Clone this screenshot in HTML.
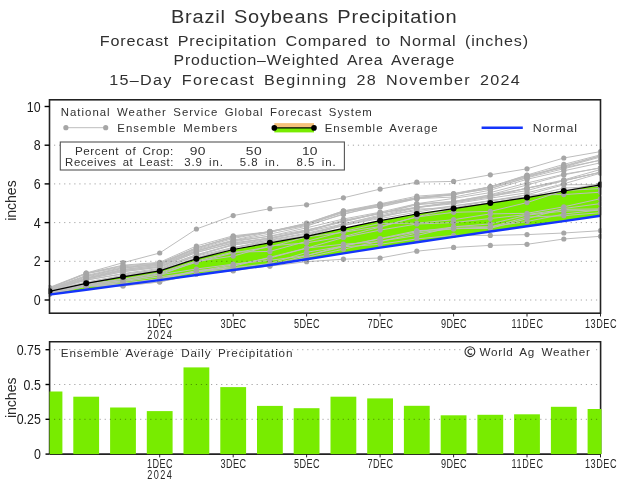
<!DOCTYPE html><html><head><meta charset="utf-8"><style>html,body{margin:0;padding:0;background:#fff;width:623px;height:484px;overflow:hidden}svg{display:block;will-change:transform}</style></head><body>
<svg width="623" height="484" viewBox="0 0 623 484" style="font-family:'Liberation Sans',sans-serif">
<text transform="translate(171.00,22.80) scale(1.060,1)" font-size="18.90" fill="#303030" word-spacing="1.89" textLength="269.5" lengthAdjust="spacing">Brazil Soybeans Precipitation</text>
<text transform="translate(99.87,45.50) scale(1.060,1)" font-size="15.26" fill="#303030" word-spacing="3.05" textLength="404.0" lengthAdjust="spacing">Forecast Precipitation Compared to Normal (inches)</text>
<text transform="translate(173.59,64.90) scale(1.060,1)" font-size="14.97" fill="#303030" word-spacing="2.99" textLength="264.8" lengthAdjust="spacing">Production–Weighted Area Average</text>
<text transform="translate(109.27,85.20) scale(1.060,1)" font-size="15.26" fill="#303030" word-spacing="3.05" textLength="387.3" lengthAdjust="spacing">15–Day Forecast Beginning 28 November 2024</text>
<polygon points="49.5,291.3 86.2,283.3 123.0,276.8 159.7,270.9 196.4,258.8 233.2,249.5 269.9,242.8 306.6,236.4 343.4,228.4 380.1,220.7 416.8,214.0 453.6,208.6 490.3,203.1 527.0,197.6 563.8,191.0 600.5,184.8 600.5,215.8 563.8,221.1 527.0,226.3 490.3,231.5 453.6,236.9 416.8,242.2 380.1,247.6 343.4,253.4 306.6,259.2 269.9,265.0 233.2,270.0 196.4,275.0 159.7,280.1 123.0,284.9 86.2,289.7 49.5,294.6" fill="#78ec00"/>
<g fill="none" stroke="#bdbdbd" stroke-width="1">
<polyline points="49.5,287.4 86.2,273.1 123.0,262.7 159.7,253.0 196.4,229.0 233.2,215.6 269.9,208.7 306.6,204.8 343.4,197.8 380.1,189.1 416.8,182.2 453.6,181.4 490.3,174.8 527.0,168.8 563.8,158.0 600.5,151.6"/>
<polyline points="49.5,293.8 86.2,286.5 123.0,281.6 159.7,276.8 196.4,271.9 233.2,268.7 269.9,266.1 306.6,261.7 343.4,259.2 380.1,258.0 416.8,251.2 453.6,247.4 490.3,245.4 527.0,244.3 563.8,239.0 600.5,236.3"/>
<polyline points="49.5,293.2 86.2,285.5 123.0,280.6 159.7,274.8 196.4,269.0 233.2,264.2 269.9,260.3 306.6,255.5 343.4,246.8 380.1,244.3 416.8,238.9 453.6,235.4 490.3,235.4 527.0,234.6 563.8,233.0 600.5,230.7"/>
<polyline points="49.5,294.1 86.2,285.9 123.0,285.7 159.7,281.8 196.4,274.0 233.2,270.7 269.9,264.9 306.6,255.5 343.4,245.9 380.1,238.9 416.8,231.8 453.6,227.0 490.3,226.8 527.0,221.5 563.8,214.1 600.5,209.8"/>
<polyline points="49.5,294.2 86.2,286.1 123.0,285.9 159.7,282.0 196.4,274.0 233.2,270.7 269.9,265.9 306.6,257.4 343.4,249.2 380.1,241.2 416.8,235.5 453.6,226.8 490.3,223.9 527.0,215.1 563.8,211.1 600.5,209.9"/>
<polyline points="49.5,293.6 86.2,285.5 123.0,284.9 159.7,278.9 196.4,270.5 233.2,267.7 269.9,263.5 306.6,252.3 343.4,246.1 380.1,238.5 416.8,230.7 453.6,228.9 490.3,227.0 527.0,217.1 563.8,215.7 600.5,212.7"/>
<polyline points="49.5,293.3 86.2,285.4 123.0,284.4 159.7,278.6 196.4,271.4 233.2,264.9 269.9,258.0 306.6,248.2 343.4,237.5 380.1,230.1 416.8,224.0 453.6,222.6 490.3,218.5 527.0,214.5 563.8,209.4 600.5,208.9"/>
<polyline points="49.5,293.2 86.2,285.2 123.0,282.8 159.7,279.2 196.4,271.9 233.2,266.3 269.9,257.3 306.6,248.0 343.4,244.2 380.1,241.7 416.8,233.0 453.6,228.6 490.3,228.4 527.0,218.7 563.8,208.5 600.5,203.6"/>
<polyline points="49.5,292.5 86.2,284.4 123.0,279.1 159.7,272.7 196.4,261.0 233.2,252.1 269.9,251.4 306.6,241.3 343.4,231.5 380.1,223.4 416.8,223.2 453.6,219.7 490.3,213.9 527.0,213.3 563.8,206.8 600.5,198.7"/>
<polyline points="49.5,292.7 86.2,284.1 123.0,279.3 159.7,273.7 196.4,262.3 233.2,252.9 269.9,246.9 306.6,236.9 343.4,232.3 380.1,226.5 416.8,217.0 453.6,212.3 490.3,211.4 527.0,202.6 563.8,190.6 600.5,188.5"/>
<polyline points="49.5,292.4 86.2,284.3 123.0,280.8 159.7,275.0 196.4,261.5 233.2,256.1 269.9,245.9 306.6,242.9 343.4,236.6 380.1,227.1 416.8,216.8 453.6,208.4 490.3,202.7 527.0,197.2 563.8,190.8 600.5,183.3"/>
<polyline points="49.5,291.5 86.2,283.4 123.0,276.3 159.7,270.6 196.4,257.7 233.2,247.9 269.9,239.7 306.6,233.1 343.4,225.2 380.1,218.6 416.8,212.1 453.6,205.9 490.3,201.2 527.0,194.8 563.8,184.8 600.5,184.6"/>
<polyline points="49.5,291.5 86.2,283.2 123.0,276.2 159.7,270.2 196.4,258.3 233.2,248.1 269.9,241.3 306.6,235.4 343.4,223.7 380.1,216.2 416.8,210.5 453.6,205.8 490.3,200.7 527.0,194.8 563.8,194.6 600.5,192.2"/>
<polyline points="49.5,290.6 86.2,282.0 123.0,275.4 159.7,269.2 196.4,255.7 233.2,245.0 269.9,240.3 306.6,234.0 343.4,225.8 380.1,217.3 416.8,209.1 453.6,207.9 490.3,200.5 527.0,196.9 563.8,188.1 600.5,186.2"/>
<polyline points="49.5,290.5 86.2,280.2 123.0,273.5 159.7,268.4 196.4,254.6 233.2,245.1 269.9,238.9 306.6,230.8 343.4,220.2 380.1,213.7 416.8,203.9 453.6,201.4 490.3,195.1 527.0,188.3 563.8,180.7 600.5,172.3"/>
<polyline points="49.5,290.3 86.2,279.9 123.0,274.1 159.7,269.6 196.4,256.2 233.2,247.4 269.9,241.5 306.6,236.2 343.4,225.3 380.1,216.5 416.8,207.5 453.6,203.8 490.3,198.1 527.0,192.8 563.8,183.8 600.5,173.2"/>
<polyline points="49.5,290.3 86.2,279.2 123.0,271.6 159.7,267.2 196.4,255.0 233.2,244.2 269.9,237.9 306.6,231.4 343.4,221.3 380.1,213.5 416.8,204.8 453.6,201.6 490.3,194.7 527.0,185.0 563.8,174.9 600.5,167.7"/>
<polyline points="49.5,290.1 86.2,278.9 123.0,271.7 159.7,267.1 196.4,252.2 233.2,242.8 269.9,238.4 306.6,231.5 343.4,224.0 380.1,215.0 416.8,207.2 453.6,202.9 490.3,197.0 527.0,188.1 563.8,179.9 600.5,169.5"/>
<polyline points="49.5,289.7 86.2,277.9 123.0,269.8 159.7,265.1 196.4,251.0 233.2,240.8 269.9,236.3 306.6,229.9 343.4,222.0 380.1,213.0 416.8,207.1 453.6,202.0 490.3,196.2 527.0,188.2 563.8,180.8 600.5,172.2"/>
<polyline points="49.5,289.2 86.2,277.0 123.0,269.4 159.7,265.1 196.4,250.6 233.2,241.8 269.9,236.1 306.6,227.8 343.4,219.0 380.1,212.2 416.8,203.7 453.6,198.4 490.3,192.6 527.0,183.0 563.8,174.2 600.5,168.0"/>
<polyline points="49.5,289.6 86.2,278.4 123.0,270.4 159.7,266.4 196.4,252.6 233.2,243.2 269.9,237.8 306.6,230.3 343.4,221.2 380.1,212.8 416.8,207.9 453.6,201.9 490.3,196.2 527.0,190.6 563.8,180.5 600.5,172.2"/>
<polyline points="49.5,289.6 86.2,278.3 123.0,270.6 159.7,266.3 196.4,251.3 233.2,240.7 269.9,234.1 306.6,226.2 343.4,213.7 380.1,206.3 416.8,198.7 453.6,197.0 490.3,190.2 527.0,179.3 563.8,170.8 600.5,162.8"/>
<polyline points="49.5,288.6 86.2,276.2 123.0,268.4 159.7,263.6 196.4,248.9 233.2,238.5 269.9,231.4 306.6,223.8 343.4,211.6 380.1,204.3 416.8,198.1 453.6,194.4 490.3,188.4 527.0,177.8 563.8,168.7 600.5,160.0"/>
<polyline points="49.5,289.0 86.2,276.2 123.0,268.1 159.7,264.3 196.4,249.7 233.2,240.2 269.9,232.2 306.6,223.5 343.4,211.0 380.1,207.0 416.8,198.8 453.6,194.3 490.3,186.8 527.0,176.3 563.8,167.1 600.5,157.0"/>
<polyline points="49.5,289.0 86.2,275.3 123.0,267.5 159.7,264.3 196.4,248.0 233.2,236.7 269.9,232.0 306.6,224.5 343.4,212.4 380.1,205.3 416.8,198.2 453.6,195.0 490.3,186.8 527.0,175.4 563.8,167.6 600.5,160.3"/>
<polyline points="49.5,288.2 86.2,273.2 123.0,265.2 159.7,262.3 196.4,246.0 233.2,235.8 269.9,231.7 306.6,224.2 343.4,212.2 380.1,204.6 416.8,197.8 453.6,193.8 490.3,187.2 527.0,176.4 563.8,165.8 600.5,155.7"/>
<polyline points="49.5,288.3 86.2,273.6 123.0,265.8 159.7,263.1 196.4,247.7 233.2,237.4 269.9,231.5 306.6,223.2 343.4,210.9 380.1,203.8 416.8,196.2 453.6,193.5 490.3,186.8 527.0,175.0 563.8,164.4 600.5,154.8"/>
<polyline points="49.5,288.0 86.2,273.7 123.0,266.9 159.7,263.4 196.4,248.0 233.2,237.1 269.9,231.8 306.6,225.5 343.4,214.4 380.1,205.1 416.8,197.5 453.6,194.4 490.3,188.6 527.0,177.4 563.8,166.5 600.5,156.0"/>
</g><g fill="#a6a6a6">
<circle cx="49.5" cy="287.4" r="2.6"/>
<circle cx="86.2" cy="273.1" r="2.6"/>
<circle cx="123.0" cy="262.7" r="2.6"/>
<circle cx="159.7" cy="253.0" r="2.6"/>
<circle cx="196.4" cy="229.0" r="2.6"/>
<circle cx="233.2" cy="215.6" r="2.6"/>
<circle cx="269.9" cy="208.7" r="2.6"/>
<circle cx="306.6" cy="204.8" r="2.6"/>
<circle cx="343.4" cy="197.8" r="2.6"/>
<circle cx="380.1" cy="189.1" r="2.6"/>
<circle cx="416.8" cy="182.2" r="2.6"/>
<circle cx="453.6" cy="181.4" r="2.6"/>
<circle cx="490.3" cy="174.8" r="2.6"/>
<circle cx="527.0" cy="168.8" r="2.6"/>
<circle cx="563.8" cy="158.0" r="2.6"/>
<circle cx="600.5" cy="151.6" r="2.6"/>
<circle cx="49.5" cy="293.8" r="2.6"/>
<circle cx="86.2" cy="286.5" r="2.6"/>
<circle cx="123.0" cy="281.6" r="2.6"/>
<circle cx="159.7" cy="276.8" r="2.6"/>
<circle cx="196.4" cy="271.9" r="2.6"/>
<circle cx="233.2" cy="268.7" r="2.6"/>
<circle cx="269.9" cy="266.1" r="2.6"/>
<circle cx="306.6" cy="261.7" r="2.6"/>
<circle cx="343.4" cy="259.2" r="2.6"/>
<circle cx="380.1" cy="258.0" r="2.6"/>
<circle cx="416.8" cy="251.2" r="2.6"/>
<circle cx="453.6" cy="247.4" r="2.6"/>
<circle cx="490.3" cy="245.4" r="2.6"/>
<circle cx="527.0" cy="244.3" r="2.6"/>
<circle cx="563.8" cy="239.0" r="2.6"/>
<circle cx="600.5" cy="236.3" r="2.6"/>
<circle cx="49.5" cy="293.2" r="2.6"/>
<circle cx="86.2" cy="285.5" r="2.6"/>
<circle cx="123.0" cy="280.6" r="2.6"/>
<circle cx="159.7" cy="274.8" r="2.6"/>
<circle cx="196.4" cy="269.0" r="2.6"/>
<circle cx="233.2" cy="264.2" r="2.6"/>
<circle cx="269.9" cy="260.3" r="2.6"/>
<circle cx="306.6" cy="255.5" r="2.6"/>
<circle cx="343.4" cy="246.8" r="2.6"/>
<circle cx="380.1" cy="244.3" r="2.6"/>
<circle cx="416.8" cy="238.9" r="2.6"/>
<circle cx="453.6" cy="235.4" r="2.6"/>
<circle cx="490.3" cy="235.4" r="2.6"/>
<circle cx="527.0" cy="234.6" r="2.6"/>
<circle cx="563.8" cy="233.0" r="2.6"/>
<circle cx="600.5" cy="230.7" r="2.6"/>
<circle cx="49.5" cy="294.1" r="2.6"/>
<circle cx="86.2" cy="285.9" r="2.6"/>
<circle cx="123.0" cy="285.7" r="2.6"/>
<circle cx="159.7" cy="281.8" r="2.6"/>
<circle cx="196.4" cy="274.0" r="2.6"/>
<circle cx="233.2" cy="270.7" r="2.6"/>
<circle cx="269.9" cy="264.9" r="2.6"/>
<circle cx="306.6" cy="255.5" r="2.6"/>
<circle cx="343.4" cy="245.9" r="2.6"/>
<circle cx="380.1" cy="238.9" r="2.6"/>
<circle cx="416.8" cy="231.8" r="2.6"/>
<circle cx="453.6" cy="227.0" r="2.6"/>
<circle cx="490.3" cy="226.8" r="2.6"/>
<circle cx="527.0" cy="221.5" r="2.6"/>
<circle cx="563.8" cy="214.1" r="2.6"/>
<circle cx="600.5" cy="209.8" r="2.6"/>
<circle cx="49.5" cy="294.2" r="2.6"/>
<circle cx="86.2" cy="286.1" r="2.6"/>
<circle cx="123.0" cy="285.9" r="2.6"/>
<circle cx="159.7" cy="282.0" r="2.6"/>
<circle cx="196.4" cy="274.0" r="2.6"/>
<circle cx="233.2" cy="270.7" r="2.6"/>
<circle cx="269.9" cy="265.9" r="2.6"/>
<circle cx="306.6" cy="257.4" r="2.6"/>
<circle cx="343.4" cy="249.2" r="2.6"/>
<circle cx="380.1" cy="241.2" r="2.6"/>
<circle cx="416.8" cy="235.5" r="2.6"/>
<circle cx="453.6" cy="226.8" r="2.6"/>
<circle cx="490.3" cy="223.9" r="2.6"/>
<circle cx="527.0" cy="215.1" r="2.6"/>
<circle cx="563.8" cy="211.1" r="2.6"/>
<circle cx="600.5" cy="209.9" r="2.6"/>
<circle cx="49.5" cy="293.6" r="2.6"/>
<circle cx="86.2" cy="285.5" r="2.6"/>
<circle cx="123.0" cy="284.9" r="2.6"/>
<circle cx="159.7" cy="278.9" r="2.6"/>
<circle cx="196.4" cy="270.5" r="2.6"/>
<circle cx="233.2" cy="267.7" r="2.6"/>
<circle cx="269.9" cy="263.5" r="2.6"/>
<circle cx="306.6" cy="252.3" r="2.6"/>
<circle cx="343.4" cy="246.1" r="2.6"/>
<circle cx="380.1" cy="238.5" r="2.6"/>
<circle cx="416.8" cy="230.7" r="2.6"/>
<circle cx="453.6" cy="228.9" r="2.6"/>
<circle cx="490.3" cy="227.0" r="2.6"/>
<circle cx="527.0" cy="217.1" r="2.6"/>
<circle cx="563.8" cy="215.7" r="2.6"/>
<circle cx="600.5" cy="212.7" r="2.6"/>
<circle cx="49.5" cy="293.3" r="2.6"/>
<circle cx="86.2" cy="285.4" r="2.6"/>
<circle cx="123.0" cy="284.4" r="2.6"/>
<circle cx="159.7" cy="278.6" r="2.6"/>
<circle cx="196.4" cy="271.4" r="2.6"/>
<circle cx="233.2" cy="264.9" r="2.6"/>
<circle cx="269.9" cy="258.0" r="2.6"/>
<circle cx="306.6" cy="248.2" r="2.6"/>
<circle cx="343.4" cy="237.5" r="2.6"/>
<circle cx="380.1" cy="230.1" r="2.6"/>
<circle cx="416.8" cy="224.0" r="2.6"/>
<circle cx="453.6" cy="222.6" r="2.6"/>
<circle cx="490.3" cy="218.5" r="2.6"/>
<circle cx="527.0" cy="214.5" r="2.6"/>
<circle cx="563.8" cy="209.4" r="2.6"/>
<circle cx="600.5" cy="208.9" r="2.6"/>
<circle cx="49.5" cy="293.2" r="2.6"/>
<circle cx="86.2" cy="285.2" r="2.6"/>
<circle cx="123.0" cy="282.8" r="2.6"/>
<circle cx="159.7" cy="279.2" r="2.6"/>
<circle cx="196.4" cy="271.9" r="2.6"/>
<circle cx="233.2" cy="266.3" r="2.6"/>
<circle cx="269.9" cy="257.3" r="2.6"/>
<circle cx="306.6" cy="248.0" r="2.6"/>
<circle cx="343.4" cy="244.2" r="2.6"/>
<circle cx="380.1" cy="241.7" r="2.6"/>
<circle cx="416.8" cy="233.0" r="2.6"/>
<circle cx="453.6" cy="228.6" r="2.6"/>
<circle cx="490.3" cy="228.4" r="2.6"/>
<circle cx="527.0" cy="218.7" r="2.6"/>
<circle cx="563.8" cy="208.5" r="2.6"/>
<circle cx="600.5" cy="203.6" r="2.6"/>
<circle cx="49.5" cy="292.5" r="2.6"/>
<circle cx="86.2" cy="284.4" r="2.6"/>
<circle cx="123.0" cy="279.1" r="2.6"/>
<circle cx="159.7" cy="272.7" r="2.6"/>
<circle cx="196.4" cy="261.0" r="2.6"/>
<circle cx="233.2" cy="252.1" r="2.6"/>
<circle cx="269.9" cy="251.4" r="2.6"/>
<circle cx="306.6" cy="241.3" r="2.6"/>
<circle cx="343.4" cy="231.5" r="2.6"/>
<circle cx="380.1" cy="223.4" r="2.6"/>
<circle cx="416.8" cy="223.2" r="2.6"/>
<circle cx="453.6" cy="219.7" r="2.6"/>
<circle cx="490.3" cy="213.9" r="2.6"/>
<circle cx="527.0" cy="213.3" r="2.6"/>
<circle cx="563.8" cy="206.8" r="2.6"/>
<circle cx="600.5" cy="198.7" r="2.6"/>
<circle cx="49.5" cy="292.7" r="2.6"/>
<circle cx="86.2" cy="284.1" r="2.6"/>
<circle cx="123.0" cy="279.3" r="2.6"/>
<circle cx="159.7" cy="273.7" r="2.6"/>
<circle cx="196.4" cy="262.3" r="2.6"/>
<circle cx="233.2" cy="252.9" r="2.6"/>
<circle cx="269.9" cy="246.9" r="2.6"/>
<circle cx="306.6" cy="236.9" r="2.6"/>
<circle cx="343.4" cy="232.3" r="2.6"/>
<circle cx="380.1" cy="226.5" r="2.6"/>
<circle cx="416.8" cy="217.0" r="2.6"/>
<circle cx="453.6" cy="212.3" r="2.6"/>
<circle cx="490.3" cy="211.4" r="2.6"/>
<circle cx="527.0" cy="202.6" r="2.6"/>
<circle cx="563.8" cy="190.6" r="2.6"/>
<circle cx="600.5" cy="188.5" r="2.6"/>
<circle cx="49.5" cy="292.4" r="2.6"/>
<circle cx="86.2" cy="284.3" r="2.6"/>
<circle cx="123.0" cy="280.8" r="2.6"/>
<circle cx="159.7" cy="275.0" r="2.6"/>
<circle cx="196.4" cy="261.5" r="2.6"/>
<circle cx="233.2" cy="256.1" r="2.6"/>
<circle cx="269.9" cy="245.9" r="2.6"/>
<circle cx="306.6" cy="242.9" r="2.6"/>
<circle cx="343.4" cy="236.6" r="2.6"/>
<circle cx="380.1" cy="227.1" r="2.6"/>
<circle cx="416.8" cy="216.8" r="2.6"/>
<circle cx="453.6" cy="208.4" r="2.6"/>
<circle cx="490.3" cy="202.7" r="2.6"/>
<circle cx="527.0" cy="197.2" r="2.6"/>
<circle cx="563.8" cy="190.8" r="2.6"/>
<circle cx="600.5" cy="183.3" r="2.6"/>
<circle cx="49.5" cy="291.5" r="2.6"/>
<circle cx="86.2" cy="283.4" r="2.6"/>
<circle cx="123.0" cy="276.3" r="2.6"/>
<circle cx="159.7" cy="270.6" r="2.6"/>
<circle cx="196.4" cy="257.7" r="2.6"/>
<circle cx="233.2" cy="247.9" r="2.6"/>
<circle cx="269.9" cy="239.7" r="2.6"/>
<circle cx="306.6" cy="233.1" r="2.6"/>
<circle cx="343.4" cy="225.2" r="2.6"/>
<circle cx="380.1" cy="218.6" r="2.6"/>
<circle cx="416.8" cy="212.1" r="2.6"/>
<circle cx="453.6" cy="205.9" r="2.6"/>
<circle cx="490.3" cy="201.2" r="2.6"/>
<circle cx="527.0" cy="194.8" r="2.6"/>
<circle cx="563.8" cy="184.8" r="2.6"/>
<circle cx="600.5" cy="184.6" r="2.6"/>
<circle cx="49.5" cy="291.5" r="2.6"/>
<circle cx="86.2" cy="283.2" r="2.6"/>
<circle cx="123.0" cy="276.2" r="2.6"/>
<circle cx="159.7" cy="270.2" r="2.6"/>
<circle cx="196.4" cy="258.3" r="2.6"/>
<circle cx="233.2" cy="248.1" r="2.6"/>
<circle cx="269.9" cy="241.3" r="2.6"/>
<circle cx="306.6" cy="235.4" r="2.6"/>
<circle cx="343.4" cy="223.7" r="2.6"/>
<circle cx="380.1" cy="216.2" r="2.6"/>
<circle cx="416.8" cy="210.5" r="2.6"/>
<circle cx="453.6" cy="205.8" r="2.6"/>
<circle cx="490.3" cy="200.7" r="2.6"/>
<circle cx="527.0" cy="194.8" r="2.6"/>
<circle cx="563.8" cy="194.6" r="2.6"/>
<circle cx="600.5" cy="192.2" r="2.6"/>
<circle cx="49.5" cy="290.6" r="2.6"/>
<circle cx="86.2" cy="282.0" r="2.6"/>
<circle cx="123.0" cy="275.4" r="2.6"/>
<circle cx="159.7" cy="269.2" r="2.6"/>
<circle cx="196.4" cy="255.7" r="2.6"/>
<circle cx="233.2" cy="245.0" r="2.6"/>
<circle cx="269.9" cy="240.3" r="2.6"/>
<circle cx="306.6" cy="234.0" r="2.6"/>
<circle cx="343.4" cy="225.8" r="2.6"/>
<circle cx="380.1" cy="217.3" r="2.6"/>
<circle cx="416.8" cy="209.1" r="2.6"/>
<circle cx="453.6" cy="207.9" r="2.6"/>
<circle cx="490.3" cy="200.5" r="2.6"/>
<circle cx="527.0" cy="196.9" r="2.6"/>
<circle cx="563.8" cy="188.1" r="2.6"/>
<circle cx="600.5" cy="186.2" r="2.6"/>
<circle cx="49.5" cy="290.5" r="2.6"/>
<circle cx="86.2" cy="280.2" r="2.6"/>
<circle cx="123.0" cy="273.5" r="2.6"/>
<circle cx="159.7" cy="268.4" r="2.6"/>
<circle cx="196.4" cy="254.6" r="2.6"/>
<circle cx="233.2" cy="245.1" r="2.6"/>
<circle cx="269.9" cy="238.9" r="2.6"/>
<circle cx="306.6" cy="230.8" r="2.6"/>
<circle cx="343.4" cy="220.2" r="2.6"/>
<circle cx="380.1" cy="213.7" r="2.6"/>
<circle cx="416.8" cy="203.9" r="2.6"/>
<circle cx="453.6" cy="201.4" r="2.6"/>
<circle cx="490.3" cy="195.1" r="2.6"/>
<circle cx="527.0" cy="188.3" r="2.6"/>
<circle cx="563.8" cy="180.7" r="2.6"/>
<circle cx="600.5" cy="172.3" r="2.6"/>
<circle cx="49.5" cy="290.3" r="2.6"/>
<circle cx="86.2" cy="279.9" r="2.6"/>
<circle cx="123.0" cy="274.1" r="2.6"/>
<circle cx="159.7" cy="269.6" r="2.6"/>
<circle cx="196.4" cy="256.2" r="2.6"/>
<circle cx="233.2" cy="247.4" r="2.6"/>
<circle cx="269.9" cy="241.5" r="2.6"/>
<circle cx="306.6" cy="236.2" r="2.6"/>
<circle cx="343.4" cy="225.3" r="2.6"/>
<circle cx="380.1" cy="216.5" r="2.6"/>
<circle cx="416.8" cy="207.5" r="2.6"/>
<circle cx="453.6" cy="203.8" r="2.6"/>
<circle cx="490.3" cy="198.1" r="2.6"/>
<circle cx="527.0" cy="192.8" r="2.6"/>
<circle cx="563.8" cy="183.8" r="2.6"/>
<circle cx="600.5" cy="173.2" r="2.6"/>
<circle cx="49.5" cy="290.3" r="2.6"/>
<circle cx="86.2" cy="279.2" r="2.6"/>
<circle cx="123.0" cy="271.6" r="2.6"/>
<circle cx="159.7" cy="267.2" r="2.6"/>
<circle cx="196.4" cy="255.0" r="2.6"/>
<circle cx="233.2" cy="244.2" r="2.6"/>
<circle cx="269.9" cy="237.9" r="2.6"/>
<circle cx="306.6" cy="231.4" r="2.6"/>
<circle cx="343.4" cy="221.3" r="2.6"/>
<circle cx="380.1" cy="213.5" r="2.6"/>
<circle cx="416.8" cy="204.8" r="2.6"/>
<circle cx="453.6" cy="201.6" r="2.6"/>
<circle cx="490.3" cy="194.7" r="2.6"/>
<circle cx="527.0" cy="185.0" r="2.6"/>
<circle cx="563.8" cy="174.9" r="2.6"/>
<circle cx="600.5" cy="167.7" r="2.6"/>
<circle cx="49.5" cy="290.1" r="2.6"/>
<circle cx="86.2" cy="278.9" r="2.6"/>
<circle cx="123.0" cy="271.7" r="2.6"/>
<circle cx="159.7" cy="267.1" r="2.6"/>
<circle cx="196.4" cy="252.2" r="2.6"/>
<circle cx="233.2" cy="242.8" r="2.6"/>
<circle cx="269.9" cy="238.4" r="2.6"/>
<circle cx="306.6" cy="231.5" r="2.6"/>
<circle cx="343.4" cy="224.0" r="2.6"/>
<circle cx="380.1" cy="215.0" r="2.6"/>
<circle cx="416.8" cy="207.2" r="2.6"/>
<circle cx="453.6" cy="202.9" r="2.6"/>
<circle cx="490.3" cy="197.0" r="2.6"/>
<circle cx="527.0" cy="188.1" r="2.6"/>
<circle cx="563.8" cy="179.9" r="2.6"/>
<circle cx="600.5" cy="169.5" r="2.6"/>
<circle cx="49.5" cy="289.7" r="2.6"/>
<circle cx="86.2" cy="277.9" r="2.6"/>
<circle cx="123.0" cy="269.8" r="2.6"/>
<circle cx="159.7" cy="265.1" r="2.6"/>
<circle cx="196.4" cy="251.0" r="2.6"/>
<circle cx="233.2" cy="240.8" r="2.6"/>
<circle cx="269.9" cy="236.3" r="2.6"/>
<circle cx="306.6" cy="229.9" r="2.6"/>
<circle cx="343.4" cy="222.0" r="2.6"/>
<circle cx="380.1" cy="213.0" r="2.6"/>
<circle cx="416.8" cy="207.1" r="2.6"/>
<circle cx="453.6" cy="202.0" r="2.6"/>
<circle cx="490.3" cy="196.2" r="2.6"/>
<circle cx="527.0" cy="188.2" r="2.6"/>
<circle cx="563.8" cy="180.8" r="2.6"/>
<circle cx="600.5" cy="172.2" r="2.6"/>
<circle cx="49.5" cy="289.2" r="2.6"/>
<circle cx="86.2" cy="277.0" r="2.6"/>
<circle cx="123.0" cy="269.4" r="2.6"/>
<circle cx="159.7" cy="265.1" r="2.6"/>
<circle cx="196.4" cy="250.6" r="2.6"/>
<circle cx="233.2" cy="241.8" r="2.6"/>
<circle cx="269.9" cy="236.1" r="2.6"/>
<circle cx="306.6" cy="227.8" r="2.6"/>
<circle cx="343.4" cy="219.0" r="2.6"/>
<circle cx="380.1" cy="212.2" r="2.6"/>
<circle cx="416.8" cy="203.7" r="2.6"/>
<circle cx="453.6" cy="198.4" r="2.6"/>
<circle cx="490.3" cy="192.6" r="2.6"/>
<circle cx="527.0" cy="183.0" r="2.6"/>
<circle cx="563.8" cy="174.2" r="2.6"/>
<circle cx="600.5" cy="168.0" r="2.6"/>
<circle cx="49.5" cy="289.6" r="2.6"/>
<circle cx="86.2" cy="278.4" r="2.6"/>
<circle cx="123.0" cy="270.4" r="2.6"/>
<circle cx="159.7" cy="266.4" r="2.6"/>
<circle cx="196.4" cy="252.6" r="2.6"/>
<circle cx="233.2" cy="243.2" r="2.6"/>
<circle cx="269.9" cy="237.8" r="2.6"/>
<circle cx="306.6" cy="230.3" r="2.6"/>
<circle cx="343.4" cy="221.2" r="2.6"/>
<circle cx="380.1" cy="212.8" r="2.6"/>
<circle cx="416.8" cy="207.9" r="2.6"/>
<circle cx="453.6" cy="201.9" r="2.6"/>
<circle cx="490.3" cy="196.2" r="2.6"/>
<circle cx="527.0" cy="190.6" r="2.6"/>
<circle cx="563.8" cy="180.5" r="2.6"/>
<circle cx="600.5" cy="172.2" r="2.6"/>
<circle cx="49.5" cy="289.6" r="2.6"/>
<circle cx="86.2" cy="278.3" r="2.6"/>
<circle cx="123.0" cy="270.6" r="2.6"/>
<circle cx="159.7" cy="266.3" r="2.6"/>
<circle cx="196.4" cy="251.3" r="2.6"/>
<circle cx="233.2" cy="240.7" r="2.6"/>
<circle cx="269.9" cy="234.1" r="2.6"/>
<circle cx="306.6" cy="226.2" r="2.6"/>
<circle cx="343.4" cy="213.7" r="2.6"/>
<circle cx="380.1" cy="206.3" r="2.6"/>
<circle cx="416.8" cy="198.7" r="2.6"/>
<circle cx="453.6" cy="197.0" r="2.6"/>
<circle cx="490.3" cy="190.2" r="2.6"/>
<circle cx="527.0" cy="179.3" r="2.6"/>
<circle cx="563.8" cy="170.8" r="2.6"/>
<circle cx="600.5" cy="162.8" r="2.6"/>
<circle cx="49.5" cy="288.6" r="2.6"/>
<circle cx="86.2" cy="276.2" r="2.6"/>
<circle cx="123.0" cy="268.4" r="2.6"/>
<circle cx="159.7" cy="263.6" r="2.6"/>
<circle cx="196.4" cy="248.9" r="2.6"/>
<circle cx="233.2" cy="238.5" r="2.6"/>
<circle cx="269.9" cy="231.4" r="2.6"/>
<circle cx="306.6" cy="223.8" r="2.6"/>
<circle cx="343.4" cy="211.6" r="2.6"/>
<circle cx="380.1" cy="204.3" r="2.6"/>
<circle cx="416.8" cy="198.1" r="2.6"/>
<circle cx="453.6" cy="194.4" r="2.6"/>
<circle cx="490.3" cy="188.4" r="2.6"/>
<circle cx="527.0" cy="177.8" r="2.6"/>
<circle cx="563.8" cy="168.7" r="2.6"/>
<circle cx="600.5" cy="160.0" r="2.6"/>
<circle cx="49.5" cy="289.0" r="2.6"/>
<circle cx="86.2" cy="276.2" r="2.6"/>
<circle cx="123.0" cy="268.1" r="2.6"/>
<circle cx="159.7" cy="264.3" r="2.6"/>
<circle cx="196.4" cy="249.7" r="2.6"/>
<circle cx="233.2" cy="240.2" r="2.6"/>
<circle cx="269.9" cy="232.2" r="2.6"/>
<circle cx="306.6" cy="223.5" r="2.6"/>
<circle cx="343.4" cy="211.0" r="2.6"/>
<circle cx="380.1" cy="207.0" r="2.6"/>
<circle cx="416.8" cy="198.8" r="2.6"/>
<circle cx="453.6" cy="194.3" r="2.6"/>
<circle cx="490.3" cy="186.8" r="2.6"/>
<circle cx="527.0" cy="176.3" r="2.6"/>
<circle cx="563.8" cy="167.1" r="2.6"/>
<circle cx="600.5" cy="157.0" r="2.6"/>
<circle cx="49.5" cy="289.0" r="2.6"/>
<circle cx="86.2" cy="275.3" r="2.6"/>
<circle cx="123.0" cy="267.5" r="2.6"/>
<circle cx="159.7" cy="264.3" r="2.6"/>
<circle cx="196.4" cy="248.0" r="2.6"/>
<circle cx="233.2" cy="236.7" r="2.6"/>
<circle cx="269.9" cy="232.0" r="2.6"/>
<circle cx="306.6" cy="224.5" r="2.6"/>
<circle cx="343.4" cy="212.4" r="2.6"/>
<circle cx="380.1" cy="205.3" r="2.6"/>
<circle cx="416.8" cy="198.2" r="2.6"/>
<circle cx="453.6" cy="195.0" r="2.6"/>
<circle cx="490.3" cy="186.8" r="2.6"/>
<circle cx="527.0" cy="175.4" r="2.6"/>
<circle cx="563.8" cy="167.6" r="2.6"/>
<circle cx="600.5" cy="160.3" r="2.6"/>
<circle cx="49.5" cy="288.2" r="2.6"/>
<circle cx="86.2" cy="273.2" r="2.6"/>
<circle cx="123.0" cy="265.2" r="2.6"/>
<circle cx="159.7" cy="262.3" r="2.6"/>
<circle cx="196.4" cy="246.0" r="2.6"/>
<circle cx="233.2" cy="235.8" r="2.6"/>
<circle cx="269.9" cy="231.7" r="2.6"/>
<circle cx="306.6" cy="224.2" r="2.6"/>
<circle cx="343.4" cy="212.2" r="2.6"/>
<circle cx="380.1" cy="204.6" r="2.6"/>
<circle cx="416.8" cy="197.8" r="2.6"/>
<circle cx="453.6" cy="193.8" r="2.6"/>
<circle cx="490.3" cy="187.2" r="2.6"/>
<circle cx="527.0" cy="176.4" r="2.6"/>
<circle cx="563.8" cy="165.8" r="2.6"/>
<circle cx="600.5" cy="155.7" r="2.6"/>
<circle cx="49.5" cy="288.3" r="2.6"/>
<circle cx="86.2" cy="273.6" r="2.6"/>
<circle cx="123.0" cy="265.8" r="2.6"/>
<circle cx="159.7" cy="263.1" r="2.6"/>
<circle cx="196.4" cy="247.7" r="2.6"/>
<circle cx="233.2" cy="237.4" r="2.6"/>
<circle cx="269.9" cy="231.5" r="2.6"/>
<circle cx="306.6" cy="223.2" r="2.6"/>
<circle cx="343.4" cy="210.9" r="2.6"/>
<circle cx="380.1" cy="203.8" r="2.6"/>
<circle cx="416.8" cy="196.2" r="2.6"/>
<circle cx="453.6" cy="193.5" r="2.6"/>
<circle cx="490.3" cy="186.8" r="2.6"/>
<circle cx="527.0" cy="175.0" r="2.6"/>
<circle cx="563.8" cy="164.4" r="2.6"/>
<circle cx="600.5" cy="154.8" r="2.6"/>
<circle cx="49.5" cy="288.0" r="2.6"/>
<circle cx="86.2" cy="273.7" r="2.6"/>
<circle cx="123.0" cy="266.9" r="2.6"/>
<circle cx="159.7" cy="263.4" r="2.6"/>
<circle cx="196.4" cy="248.0" r="2.6"/>
<circle cx="233.2" cy="237.1" r="2.6"/>
<circle cx="269.9" cy="231.8" r="2.6"/>
<circle cx="306.6" cy="225.5" r="2.6"/>
<circle cx="343.4" cy="214.4" r="2.6"/>
<circle cx="380.1" cy="205.1" r="2.6"/>
<circle cx="416.8" cy="197.5" r="2.6"/>
<circle cx="453.6" cy="194.4" r="2.6"/>
<circle cx="490.3" cy="188.6" r="2.6"/>
<circle cx="527.0" cy="177.4" r="2.6"/>
<circle cx="563.8" cy="166.5" r="2.6"/>
<circle cx="600.5" cy="156.0" r="2.6"/>
</g>
<line x1="54" y1="300.0" x2="600" y2="300.0" stroke="#000" stroke-opacity="0.36" stroke-width="1" stroke-dasharray="1.2 3.865"/>
<line x1="54" y1="261.3" x2="600" y2="261.3" stroke="#000" stroke-opacity="0.36" stroke-width="1" stroke-dasharray="1.2 3.865"/>
<line x1="54" y1="222.6" x2="600" y2="222.6" stroke="#000" stroke-opacity="0.36" stroke-width="1" stroke-dasharray="1.2 3.865"/>
<line x1="54" y1="183.9" x2="600" y2="183.9" stroke="#000" stroke-opacity="0.36" stroke-width="1" stroke-dasharray="1.2 3.865"/>
<line x1="54" y1="145.2" x2="600" y2="145.2" stroke="#000" stroke-opacity="0.36" stroke-width="1" stroke-dasharray="1.2 3.865"/>
<polyline points="49.5,291.3 86.2,283.3 123.0,276.8 159.7,270.9 196.4,258.8 233.2,249.5 269.9,242.8 306.6,236.4 343.4,228.4 380.1,220.7 416.8,214.0 453.6,208.6 490.3,203.1 527.0,197.6 563.8,191.0 600.5,184.8" fill="none" stroke="#000" stroke-width="1.2"/>
<g fill="#000">
<circle cx="49.5" cy="291.3" r="3"/>
<circle cx="86.2" cy="283.3" r="3"/>
<circle cx="123.0" cy="276.8" r="3"/>
<circle cx="159.7" cy="270.9" r="3"/>
<circle cx="196.4" cy="258.8" r="3"/>
<circle cx="233.2" cy="249.5" r="3"/>
<circle cx="269.9" cy="242.8" r="3"/>
<circle cx="306.6" cy="236.4" r="3"/>
<circle cx="343.4" cy="228.4" r="3"/>
<circle cx="380.1" cy="220.7" r="3"/>
<circle cx="416.8" cy="214.0" r="3"/>
<circle cx="453.6" cy="208.6" r="3"/>
<circle cx="490.3" cy="203.1" r="3"/>
<circle cx="527.0" cy="197.6" r="3"/>
<circle cx="563.8" cy="191.0" r="3"/>
<circle cx="600.5" cy="184.8" r="3"/>
</g>
<polyline points="49.5,294.6 86.2,289.7 123.0,284.9 159.7,280.1 196.4,275.0 233.2,270.0 269.9,265.0 306.6,259.2 343.4,253.4 380.1,247.6 416.8,242.2 453.6,236.9 490.3,231.5 527.0,226.3 563.8,221.1 600.5,215.8" fill="none" stroke="#1434fa" stroke-width="2.4"/>
<rect x="0" y="90" width="48.5" height="230" fill="#fff"/>
<rect x="601.5" y="90" width="22" height="230" fill="#fff"/>
<rect x="49.5" y="99.8" width="551" height="213.4" fill="none" stroke="#222" stroke-width="1.6"/>
<line x1="44.6" y1="300.0" x2="49.5" y2="300.0" stroke="#000" stroke-width="1.4"/>
<text transform="translate(40.6,305.00) scale(0.9,1)" font-size="13.8" fill="#1a1a1a" text-anchor="end">0</text>
<line x1="44.6" y1="261.3" x2="49.5" y2="261.3" stroke="#000" stroke-width="1.4"/>
<text transform="translate(40.6,266.30) scale(0.9,1)" font-size="13.8" fill="#1a1a1a" text-anchor="end">2</text>
<line x1="44.6" y1="222.6" x2="49.5" y2="222.6" stroke="#000" stroke-width="1.4"/>
<text transform="translate(40.6,227.60) scale(0.9,1)" font-size="13.8" fill="#1a1a1a" text-anchor="end">4</text>
<line x1="44.6" y1="183.9" x2="49.5" y2="183.9" stroke="#000" stroke-width="1.4"/>
<text transform="translate(40.6,188.90) scale(0.9,1)" font-size="13.8" fill="#1a1a1a" text-anchor="end">6</text>
<line x1="44.6" y1="145.2" x2="49.5" y2="145.2" stroke="#000" stroke-width="1.4"/>
<text transform="translate(40.6,150.20) scale(0.9,1)" font-size="13.8" fill="#1a1a1a" text-anchor="end">8</text>
<line x1="44.6" y1="106.5" x2="49.5" y2="106.5" stroke="#000" stroke-width="1.4"/>
<text transform="translate(40.6,111.50) scale(0.9,1)" font-size="13.8" fill="#1a1a1a" text-anchor="end">10</text>
<text transform="translate(16.1,200.6) rotate(-90)" font-size="14" fill="#2a2a2a" text-anchor="middle" textLength="40.5" lengthAdjust="spacingAndGlyphs">inches</text>
<line x1="159.7" y1="313.2" x2="159.7" y2="316.5" stroke="#222" stroke-width="1"/>
<text transform="translate(159.90,327.60) scale(0.740,1)" font-size="12.35" fill="#262626" text-anchor="middle" textLength="34.6" lengthAdjust="spacing">1DEC</text>
<line x1="233.2" y1="313.2" x2="233.2" y2="316.5" stroke="#222" stroke-width="1"/>
<text transform="translate(233.37,327.60) scale(0.740,1)" font-size="12.35" fill="#262626" text-anchor="middle" textLength="34.6" lengthAdjust="spacing">3DEC</text>
<line x1="306.6" y1="313.2" x2="306.6" y2="316.5" stroke="#222" stroke-width="1"/>
<text transform="translate(306.83,327.60) scale(0.740,1)" font-size="12.35" fill="#262626" text-anchor="middle" textLength="34.6" lengthAdjust="spacing">5DEC</text>
<line x1="380.1" y1="313.2" x2="380.1" y2="316.5" stroke="#222" stroke-width="1"/>
<text transform="translate(380.30,327.60) scale(0.740,1)" font-size="12.35" fill="#262626" text-anchor="middle" textLength="34.6" lengthAdjust="spacing">7DEC</text>
<line x1="453.6" y1="313.2" x2="453.6" y2="316.5" stroke="#222" stroke-width="1"/>
<text transform="translate(453.77,327.60) scale(0.740,1)" font-size="12.35" fill="#262626" text-anchor="middle" textLength="34.6" lengthAdjust="spacing">9DEC</text>
<line x1="527.0" y1="313.2" x2="527.0" y2="316.5" stroke="#222" stroke-width="1"/>
<text transform="translate(527.23,327.60) scale(0.740,1)" font-size="12.35" fill="#262626" text-anchor="middle" textLength="42.7" lengthAdjust="spacing">11DEC</text>
<line x1="600.5" y1="313.2" x2="600.5" y2="316.5" stroke="#222" stroke-width="1"/>
<text transform="translate(600.70,327.60) scale(0.740,1)" font-size="12.35" fill="#262626" text-anchor="middle" textLength="42.7" lengthAdjust="spacing">13DEC</text>
<text transform="translate(159.50,338.80) scale(0.740,1)" font-size="12.35" fill="#262626" text-anchor="middle" textLength="33.3" lengthAdjust="spacing">2024</text>
<text transform="translate(60.80,116.40) scale(1.060,1)" font-size="10.76" fill="#303030" word-spacing="2.15" textLength="293.4" lengthAdjust="spacing">National Weather Service Global Forecast System</text>
<line x1="65.9" y1="127.7" x2="105.7" y2="127.7" stroke="#bdbdbd" stroke-width="1"/>
<circle cx="65.9" cy="127.7" r="2.6" fill="#a6a6a6"/><circle cx="105.7" cy="127.7" r="2.6" fill="#a6a6a6"/>
<text transform="translate(117.20,132.10) scale(1.060,1)" font-size="10.76" fill="#303030" word-spacing="2.15" textLength="113.3" lengthAdjust="spacing">Ensemble Members</text>
<rect x="274.3" y="123.1" width="39.7" height="4.6" fill="#f5c27c"/>
<rect x="274.3" y="127.7" width="39.7" height="4.7" fill="#78ec00"/>
<line x1="274.3" y1="127.9" x2="314" y2="127.9" stroke="#000" stroke-width="1.4"/>
<circle cx="274.3" cy="127.9" r="2.8" fill="#000"/><circle cx="314" cy="127.9" r="2.8" fill="#000"/>
<text transform="translate(324.70,132.10) scale(1.060,1)" font-size="10.76" fill="#303030" word-spacing="2.15" textLength="106.6" lengthAdjust="spacing">Ensemble Average</text>
<line x1="481.6" y1="127.8" x2="522.8" y2="127.8" stroke="#1434fa" stroke-width="2.6"/>
<text transform="translate(532.63,132.10) scale(1.150,1)" font-size="10.76" fill="#303030" word-spacing="2.15" textLength="38.5" lengthAdjust="spacing">Normal</text>
<rect x="60.3" y="142.0" width="284.1" height="28.0" fill="#fff" stroke="#555" stroke-width="1.1"/>
<text transform="translate(74.88,154.60) scale(1.060,1)" font-size="11.05" fill="#303030" word-spacing="2.21" textLength="92.9" lengthAdjust="spacing">Percent of Crop:</text>
<text transform="translate(65.10,165.90) scale(1.060,1)" font-size="10.76" fill="#303030" word-spacing="2.15" textLength="102.1" lengthAdjust="spacing">Receives at Least:</text>
<text transform="translate(189.73,154.60) scale(1.250,1)" font-size="11.05" fill="#303030" word-spacing="0.00" textLength="12.6" lengthAdjust="spacing">90</text>
<text transform="translate(245.63,154.60) scale(1.250,1)" font-size="11.05" fill="#303030" word-spacing="0.00" textLength="12.9" lengthAdjust="spacing">50</text>
<text transform="translate(301.93,154.60) scale(1.250,1)" font-size="11.05" fill="#303030" word-spacing="0.00" textLength="12.3" lengthAdjust="spacing">10</text>
<text transform="translate(184.20,165.90) scale(1.060,1)" font-size="10.76" fill="#303030" word-spacing="2.15" textLength="36.5" lengthAdjust="spacing">3.9 in.</text>
<text transform="translate(239.80,165.90) scale(1.060,1)" font-size="10.76" fill="#303030" word-spacing="2.15" textLength="37.1" lengthAdjust="spacing">5.8 in.</text>
<text transform="translate(296.40,165.90) scale(1.060,1)" font-size="10.76" fill="#303030" word-spacing="2.15" textLength="37.1" lengthAdjust="spacing">8.5 in.</text>
<polyline points="49.6,454.1 49.6,341.8 600.6,341.8 600.6,454.1" fill="none" stroke="#222" stroke-width="1.6"/>
<line x1="49.5" y1="454.1" x2="600.6" y2="454.1" stroke="#222" stroke-width="1.6"/>
<g fill="#78ec00">
<rect x="49.5" y="391.5" width="12.9" height="62.6"/>
<rect x="73.3" y="396.7" width="25.8" height="57.4"/>
<rect x="110.1" y="407.5" width="25.8" height="46.6"/>
<rect x="146.8" y="411.1" width="25.8" height="43.0"/>
<rect x="183.5" y="367.4" width="25.8" height="86.7"/>
<rect x="220.3" y="387.1" width="25.8" height="67.0"/>
<rect x="257.0" y="405.9" width="25.8" height="48.2"/>
<rect x="293.7" y="408.2" width="25.8" height="45.9"/>
<rect x="330.5" y="396.7" width="25.8" height="57.4"/>
<rect x="367.2" y="398.4" width="25.8" height="55.7"/>
<rect x="403.9" y="405.8" width="25.8" height="48.3"/>
<rect x="440.7" y="415.3" width="25.8" height="38.8"/>
<rect x="477.4" y="414.8" width="25.8" height="39.3"/>
<rect x="514.1" y="414.3" width="25.8" height="39.8"/>
<rect x="550.9" y="406.8" width="25.8" height="47.3"/>
<rect x="587.6" y="409.0" width="13.9" height="45.1"/>
</g>
<line x1="54" y1="419.3" x2="600" y2="419.3" stroke="#000" stroke-opacity="0.36" stroke-width="1" stroke-dasharray="1.2 3.865"/>
<line x1="54" y1="384.5" x2="600" y2="384.5" stroke="#000" stroke-opacity="0.36" stroke-width="1" stroke-dasharray="1.2 3.865"/>
<line x1="54" y1="349.7" x2="600" y2="349.7" stroke="#000" stroke-opacity="0.36" stroke-width="1" stroke-dasharray="1.2 3.865"/>
<rect x="461.5" y="345.5" width="134" height="9" fill="#fff"/>
<text transform="translate(60.78,357.30) scale(1.060,1)" font-size="11.05" fill="#303030" word-spacing="2.21" textLength="218.6" lengthAdjust="spacing">Ensemble Average Daily Precipitation</text>
<text transform="translate(479.38,356.00) scale(1.060,1)" font-size="11.05" fill="#303030" word-spacing="2.21" textLength="104.4" lengthAdjust="spacing">World Ag Weather</text>
<circle cx="469.9" cy="351.7" r="4.9" fill="none" stroke="#303030" stroke-width="1.1"/><path d="M472.2,349.6 A2.6,2.6 0 1 0 472.2,353.8" fill="none" stroke="#303030" stroke-width="1.1"/>
<line x1="45.5" y1="454.1" x2="49.5" y2="454.1" stroke="#000" stroke-width="1.4"/>
<text transform="translate(40.8,459.10) scale(0.9,1)" font-size="13.8" fill="#1a1a1a" text-anchor="end">0</text>
<line x1="45.5" y1="419.3" x2="49.5" y2="419.3" stroke="#000" stroke-width="1.4"/>
<text transform="translate(40.8,424.30) scale(0.9,1)" font-size="13.8" fill="#1a1a1a" text-anchor="end">0.25</text>
<line x1="45.5" y1="384.5" x2="49.5" y2="384.5" stroke="#000" stroke-width="1.4"/>
<text transform="translate(40.8,389.50) scale(0.9,1)" font-size="13.8" fill="#1a1a1a" text-anchor="end">0.5</text>
<line x1="45.5" y1="349.7" x2="49.5" y2="349.7" stroke="#000" stroke-width="1.4"/>
<text transform="translate(40.8,354.70) scale(0.9,1)" font-size="13.8" fill="#1a1a1a" text-anchor="end">0.75</text>
<text transform="translate(15.8,397.8) rotate(-90)" font-size="14" fill="#2a2a2a" text-anchor="middle" textLength="40.5" lengthAdjust="spacingAndGlyphs">inches</text>
<line x1="159.7" y1="454.1" x2="159.7" y2="457.4" stroke="#222" stroke-width="1"/>
<text transform="translate(159.90,467.90) scale(0.740,1)" font-size="12.35" fill="#262626" text-anchor="middle" textLength="34.6" lengthAdjust="spacing">1DEC</text>
<line x1="233.2" y1="454.1" x2="233.2" y2="457.4" stroke="#222" stroke-width="1"/>
<text transform="translate(233.37,467.90) scale(0.740,1)" font-size="12.35" fill="#262626" text-anchor="middle" textLength="34.6" lengthAdjust="spacing">3DEC</text>
<line x1="306.6" y1="454.1" x2="306.6" y2="457.4" stroke="#222" stroke-width="1"/>
<text transform="translate(306.83,467.90) scale(0.740,1)" font-size="12.35" fill="#262626" text-anchor="middle" textLength="34.6" lengthAdjust="spacing">5DEC</text>
<line x1="380.1" y1="454.1" x2="380.1" y2="457.4" stroke="#222" stroke-width="1"/>
<text transform="translate(380.30,467.90) scale(0.740,1)" font-size="12.35" fill="#262626" text-anchor="middle" textLength="34.6" lengthAdjust="spacing">7DEC</text>
<line x1="453.6" y1="454.1" x2="453.6" y2="457.4" stroke="#222" stroke-width="1"/>
<text transform="translate(453.77,467.90) scale(0.740,1)" font-size="12.35" fill="#262626" text-anchor="middle" textLength="34.6" lengthAdjust="spacing">9DEC</text>
<line x1="527.0" y1="454.1" x2="527.0" y2="457.4" stroke="#222" stroke-width="1"/>
<text transform="translate(527.23,467.90) scale(0.740,1)" font-size="12.35" fill="#262626" text-anchor="middle" textLength="42.7" lengthAdjust="spacing">11DEC</text>
<line x1="600.5" y1="454.1" x2="600.5" y2="457.4" stroke="#222" stroke-width="1"/>
<text transform="translate(600.70,467.90) scale(0.740,1)" font-size="12.35" fill="#262626" text-anchor="middle" textLength="42.7" lengthAdjust="spacing">13DEC</text>
<text transform="translate(159.50,479.10) scale(0.740,1)" font-size="12.35" fill="#262626" text-anchor="middle" textLength="33.3" lengthAdjust="spacing">2024</text>
</svg></body></html>
